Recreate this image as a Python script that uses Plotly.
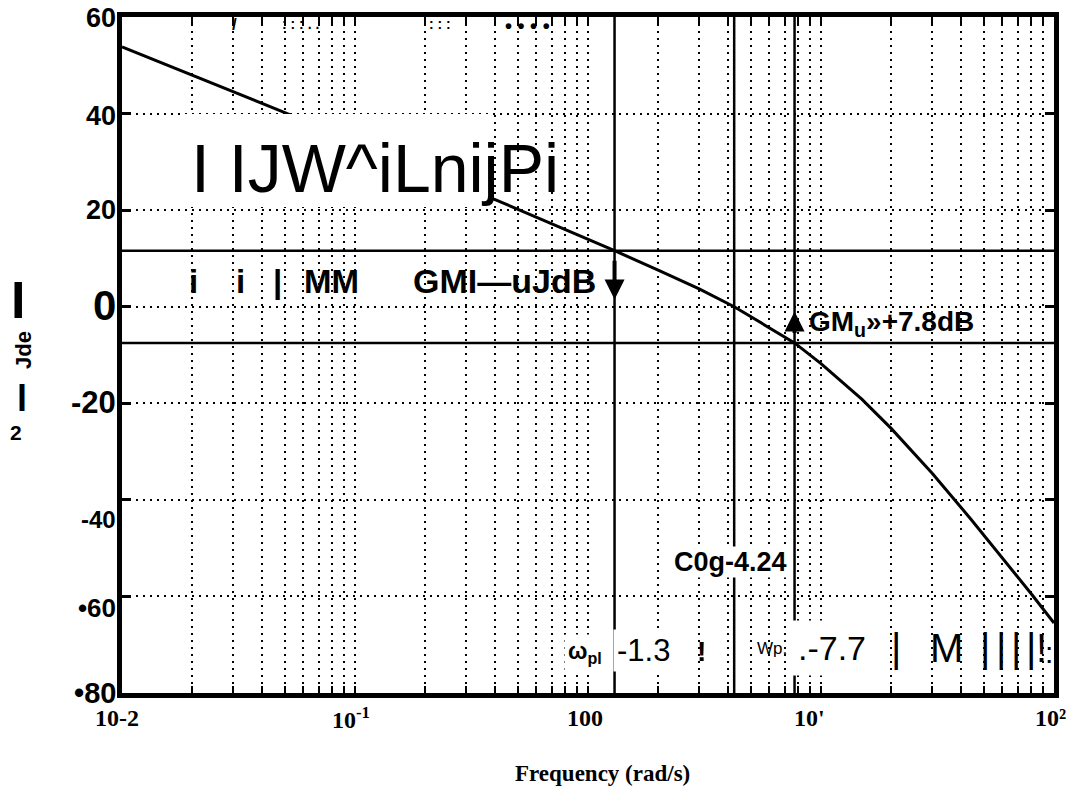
import numpy as np
import plotly.graph_objects as go

# ---------------- data ----------------
freq = [0.01, 0.02, 0.03, 0.05, 0.39, 0.7, 1.3, 2.0, 3.0, 4.24, 5.5, 7.7,
        10, 12, 15, 20, 30, 44, 60, 80, 100]
mag_db = [53.8, 48.0, 44.6, 40.2, 22.4, 17.2, 11.6, 7.6, 3.7, 0.0, -3.3, -7.5,
          -11.8, -15.1, -19.2, -25.2, -34.5, -44.0, -52.0, -59.5, -65.5]

marker_freqs = [1.3, 4.24, 7.7]          # omega_pl, omega_g, omega_pu
margin_levels_db = [11.6, -7.5]          # GM lower / upper levels

decades = [0.01, 0.1, 1, 10, 100]
x_tick_labels = ["10-2", "10<sup>-1</sup>", "100", "10'", "10²"]
x_label_shift = [-5, -4, -3, -12, -4]
y_ticks = [60, 40, 20, 0, -20, -40, -60, -80]
y_tick_labels = ["60", "40", "20", "0", "-20", "-40", "•60", "•80"]
y_label_size = [27, 27, 27, 42, 31, 24, 26, 29]
y_label_shift = [-1, -2, 0, 1, 1, -20, -12, 0]

minor_ticks = [m * 10.0 ** k for k in range(-2, 2) for m in range(1, 10)] + [100]

# ---------------- layout geometry ----------------
W, H = 1071, 791
L, R, T, B = 122, 1054, 17, 693


def px(x):
    return (x - L) / (R - L)


def py(y):
    return (B - y) / (B - T)


fig = go.Figure()

fig.add_trace(go.Scatter(x=freq, y=mag_db, mode="lines",
                         line=dict(color="black", width=3),
                         showlegend=False, hoverinfo="skip"))

for f in marker_freqs:
    fig.add_vline(x=f, line=dict(color="black", width=2.5))
for g in margin_levels_db:
    fig.add_hline(y=g, line=dict(color="black", width=2.5))

# white patch (scan erasure around the big garbled text)
fig.add_shape(type="rect", xref="paper", yref="paper", layer="above",
              x0=px(183), x1=px(490), y0=py(207), y1=py(114),
              fillcolor="white", line=dict(width=0))

# margin arrows
fig.add_annotation(x=np.log10(marker_freqs[0]), y=1.5, ax=np.log10(marker_freqs[0]),
                   ay=margin_levels_db[0], xref="x", yref="y", axref="x", ayref="y",
                   showarrow=True, arrowhead=2, arrowsize=1, arrowwidth=4, arrowcolor="black", text=" ")
fig.add_annotation(x=np.log10(marker_freqs[2]), y=-1.0, ax=np.log10(marker_freqs[2]),
                   ay=margin_levels_db[1], xref="x", yref="y", axref="x", ayref="y",
                   showarrow=True, arrowhead=2, arrowsize=1, arrowwidth=4, arrowcolor="black", text=" ")

SANS = "Liberation Sans, Arial, sans-serif"
SERIF = "Liberation Serif, Times New Roman, serif"


def txt(text, x, y, size, family=SANS, xanchor="center", bg=None, angle=0, pad=0):
    fig.add_annotation(text=text, x=px(x), y=py(y), xref="paper", yref="paper",
                       xanchor=xanchor, yanchor="middle", showarrow=False,
                       font=dict(family=family, size=size, color="black"),
                       bgcolor=bg, borderpad=pad, textangle=angle)


# big garbled title text
txt("I IJW^iLnijPi", 190, 168, 68, xanchor="left")
# row below
txt("<b>i</b>", 193, 281, 33)
txt("<b>i</b>", 240, 281, 33)
txt("<b>|</b>", 277, 281, 33)
txt("<b>MM</b>", 331, 281, 33)
txt("<b>GMI—uJdB</b>", 504, 281, 34)
txt("<b>GM<sub>u</sub>»+7.8dB</b>", 808, 323, 28, xanchor="left")
txt("<b>C0g-4.24</b>", 730, 562, 27, bg="white")
txt("<b>ω<sub>pl</sub></b>", 585, 652, 23, bg="white", pad=3)
txt("-1.3", 643, 650, 31, bg="white", pad=3)
txt("<b>!</b>", 701, 651, 28)
txt("Wp,", 772, 648, 17)
txt(".-7.7", 789, 648, 34, xanchor="left", bg="white", pad=8)
txt("|", 896, 648, 40)
txt("M", 946, 648, 40)
for bx in [985, 1001, 1016, 1031]:
    txt("|", bx, 648, 40)
txt("!", 1041, 648, 40)
txt(":", 1049, 652, 30)
txt("<b>• • • •</b>", 527, 26, 20)
txt("<b>/</b>", 234, 24, 17)
txt("<b>: : : . .</b>", 300, 24, 14)
txt("<b>: : :</b>", 440, 24, 14)

# y axis label (garbled)
txt("<b>I</b>", 18, 300, 52)
txt("<b>Jde</b>", 23, 350, 22, angle=-90)
txt("<b>l</b>", 22, 398, 36)
txt("<b>2</b>", 16, 432, 21)

# tick labels
for d, lab, sh in zip(decades, x_tick_labels, x_label_shift):
    fig.add_annotation(text="<b>" + lab + "</b>", x=np.log10(d), xref="x", y=py(718), yref="paper",
                       xanchor="center", yanchor="middle", xshift=sh, showarrow=False,
                       font=dict(family=SERIF, size=24, color="black"))
for v, lab, sz, sh in zip(y_ticks, y_tick_labels, y_label_size, y_label_shift):
    fig.add_annotation(text="<b>" + lab + "</b>", x=px(118), xref="paper", y=v, yref="y",
                       xanchor="right", yanchor="middle", yshift=sh, showarrow=False,
                       font=dict(family=SANS, size=sz, color="black"))

txt("<b>Frequency (rad/s)</b>", 602, 773, 23, family=SERIF)

grid = dict(showgrid=True, gridcolor="black", gridwidth=1.5, griddash="2px,5px")
fig.update_xaxes(type="log", range=[-2, 2], tickvals=minor_ticks, ticktext=[""] * len(minor_ticks),
                 ticks="inside", ticklen=7, tickwidth=2, tickcolor="black",
                 showline=True, linewidth=5, linecolor="black", mirror="ticks",
                 zeroline=False, **grid)
fig.update_yaxes(range=[-80, 60], tickvals=y_ticks, ticktext=[""] * len(y_ticks),
                 ticks="inside", ticklen=9, tickwidth=3, tickcolor="black",
                 showline=True, linewidth=5, linecolor="black", mirror="ticks",
                 zeroline=False, **grid)

fig.update_layout(width=W, height=H, margin=dict(l=L, r=W - R, t=T, b=H - B),
                  paper_bgcolor="white", plot_bgcolor="white", showlegend=False)

fig.write_html("out.html")
